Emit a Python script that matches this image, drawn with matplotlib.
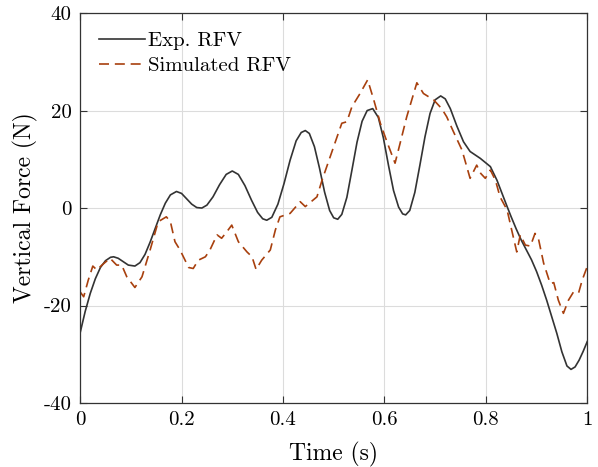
import numpy as np
import matplotlib
matplotlib.use("Agg")
import matplotlib.pyplot as plt

t_exp = [0.000, 0.010, 0.020, 0.030, 0.040, 0.050, 0.060, 0.066, 0.075, 0.085,
         0.095, 0.108, 0.118, 0.128, 0.138, 0.148, 0.158, 0.168, 0.178, 0.190,
         0.200, 0.210, 0.220, 0.230, 0.240, 0.250, 0.262, 0.275, 0.288, 0.300,
         0.312, 0.325, 0.338, 0.350, 0.360, 0.368, 0.378, 0.390, 0.402, 0.414,
         0.426, 0.436, 0.444, 0.452, 0.462, 0.472, 0.482, 0.492, 0.500, 0.508,
         0.516, 0.526, 0.536, 0.546, 0.556, 0.566, 0.577, 0.588, 0.598, 0.608,
         0.618, 0.628, 0.636, 0.642, 0.650, 0.660, 0.670, 0.680, 0.690, 0.700,
         0.711, 0.720, 0.730, 0.743, 0.756, 0.769, 0.789, 0.809, 0.822, 0.832,
         0.842, 0.850, 0.860, 0.870, 0.880, 0.890, 0.900, 0.910, 0.920, 0.930,
         0.940, 0.950, 0.960, 0.968, 0.976, 0.984, 0.992, 1.000]
f_exp = [-25.6, -21.2, -17.5, -14.5, -12.2, -10.8, -10.1, -10.0, -10.3, -11.0,
         -11.7, -11.9, -11.2, -9.5, -7.0, -4.2, -1.4, 1.0, 2.7, 3.4,
         3.0, 1.9, 0.8, 0.1, 0.0, 0.6, 2.3, 4.8, 6.9, 7.6,
         6.9, 4.6, 1.6, -0.9, -2.2, -2.5, -1.9, 0.8, 5.0, 9.8,
         13.8, 15.5, 15.9, 15.3, 12.6, 8.2, 3.3, -0.5, -2.0, -2.3,
         -1.3, 2.2, 7.8, 13.5, 17.8, 20.0, 20.4, 18.6, 14.4, 8.8,
         3.6, 0.2, -1.2, -1.4, -0.5, 3.2, 8.8, 14.6, 19.4, 22.2,
         23.0, 22.4, 20.4, 16.8, 13.6, 11.6, 10.2, 8.5, 5.7, 3.0,
         0.3, -1.8, -4.3, -6.6, -8.6, -10.6, -13.0, -15.8, -18.9, -22.3,
         -25.7, -29.5, -32.4, -33.1, -32.6, -31.2, -29.4, -27.4]

t_sim = [0.000, 0.007, 0.016, 0.025, 0.033, 0.043, 0.059, 0.072, 0.082, 0.092,
         0.108, 0.122, 0.138, 0.154, 0.170, 0.178, 0.187, 0.197, 0.214, 0.223,
         0.233, 0.247, 0.256, 0.270, 0.279, 0.289, 0.299, 0.312, 0.329, 0.339,
         0.347, 0.358, 0.375, 0.385, 0.394, 0.414, 0.434, 0.444, 0.467, 0.477,
         0.493, 0.516, 0.526, 0.536, 0.552, 0.567, 0.579, 0.592, 0.605, 0.621,
         0.631, 0.644, 0.664, 0.677, 0.697, 0.713, 0.723, 0.736, 0.753, 0.769,
         0.782, 0.790, 0.799, 0.809, 0.819, 0.828, 0.842, 0.851, 0.861, 0.868,
         0.878, 0.888, 0.897, 0.904, 0.914, 0.927, 0.934, 0.943, 0.953, 0.963,
         0.973, 0.983, 0.990, 1.000]
f_sim = [-17.2, -18.2, -14.8, -11.9, -12.7, -11.7, -10.3, -11.7, -11.7, -14.1,
         -16.3, -14.1, -8.6, -2.8, -1.8, -2.8, -6.9, -8.6, -12.2, -12.4,
         -10.7, -10.0, -8.6, -5.5, -6.2, -4.9, -3.5, -6.9, -9.0, -10.0,
         -12.6, -10.7, -8.6, -4.5, -1.8, -1.1, 1.3, 0.3, 2.3, 5.7,
         10.5, 17.4, 17.7, 20.8, 23.5, 26.3, 22.2, 17.4, 13.6, 9.2,
         13.3, 18.7, 25.7, 23.5, 22.2, 20.4, 18.7, 15.7, 11.9, 6.1,
         8.8, 7.1, 6.1, 7.8, 5.7, 2.3, -0.4, -4.5, -9.0, -5.5,
         -7.6, -7.8, -5.2, -6.4, -11.3, -15.5, -15.3, -18.9, -21.6, -18.9,
         -17.2, -17.4, -14.8, -12.0]

labels = ["Exp. RFV", "Simulated RFV"]

plt.rcParams["font.family"] = "serif"
plt.rcParams["font.serif"] = ["cmr10"]
plt.rcParams["mathtext.fontset"] = "cm"
plt.rcParams["axes.unicode_minus"] = False

fig, ax = plt.subplots(figsize=(5.98, 4.67), dpi=100)
fig.subplots_adjust(left=0.134, right=0.982, top=0.972, bottom=0.137)

ax.plot(t_exp, f_exp, color="#333333", lw=1.2, label=labels[0])
ax.plot(t_sim, f_sim, color="#A8400E", lw=1.2, ls=(0, (6, 3.5)), label=labels[1])

ax.set_xlim(0, 1)
ax.set_ylim(-40, 40)
ax.set_xticks([0, 0.2, 0.4, 0.6, 0.8, 1])
ax.set_xticklabels(["0", "0.2", "0.4", "0.6", "0.8", "1"])
ax.set_yticks([-40, -20, 0, 20, 40])

ax.grid(True, color="#dcdcdc", lw=0.8)
ax.set_axisbelow(True)
ax.tick_params(direction="in", top=True, right=True, labelsize=15,
               color="#333333", length=5, pad=6)
for s in ax.spines.values():
    s.set_color("#333333")
    s.set_linewidth(0.9)

ax.set_xlabel("Time (s)", fontsize=17, labelpad=9)
ax.set_ylabel("Vertical Force (N)", fontsize=17, labelpad=4)

ax.legend(loc="upper left", frameon=False, fontsize=15, handlelength=2.2,
          handletextpad=0.15, borderaxespad=0.5, borderpad=0.4,
          labelspacing=0.3)

plt.savefig("out.png", dpi=100)
